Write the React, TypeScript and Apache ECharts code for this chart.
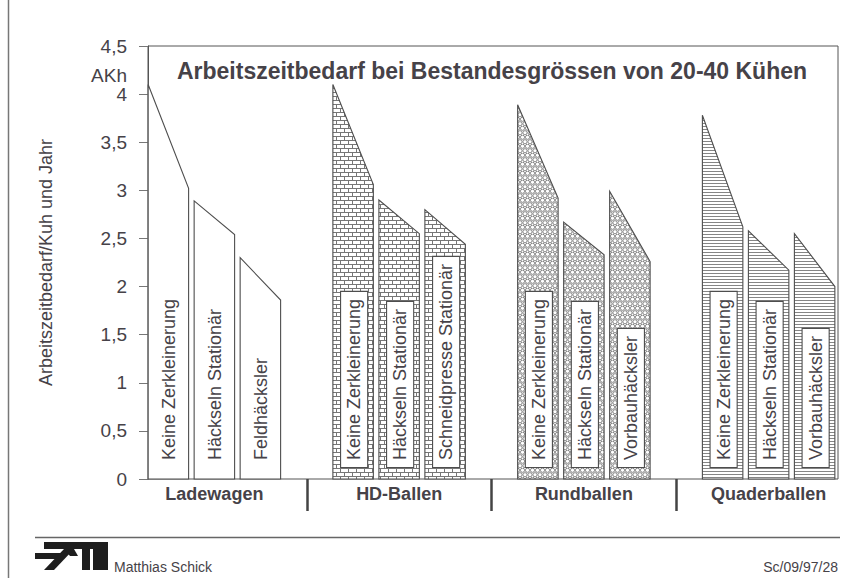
import React, { useEffect, useRef } from 'react';
import * as echarts from 'echarts';

// ---- data ----
const categories = ['Ladewagen', 'HD-Ballen', 'Rundballen', 'Quaderballen'];
const methods = [
  ['Keine Zerkleinerung', 'Häckseln Stationär', 'Feldhäcksler'],
  ['Keine Zerkleinerung', 'Häckseln Stationär', 'Schneidpresse Stationär'],
  ['Keine Zerkleinerung', 'Häckseln Stationär', 'Vorbauhäcksler'],
  ['Keine Zerkleinerung', 'Häckseln Stationär', 'Vorbauhäcksler'],
];
// AKh per cow and year at 20 cows (left edge) and at 40 cows (right edge)
const akh20Cows = [
  [4.1, 2.89, 2.3],
  [4.1, 2.9, 2.8],
  [3.89, 2.67, 2.99],
  [3.78, 2.58, 2.55],
];
const akh40Cows = [
  [3.02, 2.54, 1.86],
  [3.06, 2.55, 2.44],
  [2.92, 2.33, 2.26],
  [2.62, 2.17, 2.0],
];
const yMin = 0;
const yMax = 4.5;
const yStep = 0.5;
const chartTitle = 'Arbeitszeitbedarf bei Bestandesgrössen von 20-40 Kühen';
const yAxisName = 'Arbeitszeitbedarf/Kuh und Jahr';
const yUnit = 'AKh';
const author = 'Matthias Schick';
const docRef = 'Sc/09/97/28';
const groupPatterns = ['plain', 'brick', 'circles', 'lines'];

const FONT = '"Liberation Sans", Arial, Helvetica, sans-serif';
const TEXT = '#464248';
const LINE = '#555';

function makePattern(kind: string): any {
  if (kind === 'plain') return '#ffffff';
  const c = document.createElement('canvas');
  let w = 8, h = 8;
  if (kind === 'circles') { w = 10; h = 9; }
  if (kind === 'lines') { w = 4; h = 3; }
  c.width = w; c.height = h;
  const ctx = c.getContext('2d')!;
  ctx.fillStyle = '#ffffff';
  ctx.fillRect(0, 0, w, h);
  ctx.fillStyle = '#767676';
  ctx.strokeStyle = '#7c7c7c';
  if (kind === 'brick') {
    ctx.fillRect(0, 0, w, 1);
    ctx.fillRect(0, 4, w, 1);
    ctx.fillRect(0, 0, 1, 4);
    ctx.fillRect(4, 4, 1, 4);
  } else if (kind === 'circles') {
    ctx.lineWidth = 0.9;
    const pts = [[2.5, 2.25], [7.5, 2.25], [0, 6.75], [5, 6.75], [10, 6.75]];
    pts.forEach(([x, y]) => {
      ctx.beginPath();
      ctx.arc(x, y, 2.1, 0, Math.PI * 2);
      ctx.stroke();
    });
  } else if (kind === 'lines') {
    ctx.fillStyle = '#858585';
    ctx.fillRect(0, 0, w, 1);
  }
  return { image: c.toDataURL(), repeat: 'repeat', imageWidth: w, imageHeight: h };
}

export default function App() {
  const ref = useRef<HTMLDivElement>(null);

  useEffect(() => {
    if (!ref.current) return;
    const chart = echarts.init(ref.current, null, { renderer: 'svg' });
    const fills = groupPatterns.map(makePattern);

    const data: number[][] = [];
    categories.forEach((_, g) => {
      methods[g].forEach((__, m) => {
        data.push([g, akh20Cows[g][m], akh40Cows[g][m], m]);
      });
    });

    const option: any = {
      animation: false,
      backgroundColor: '#ffffff',
      title: {
        text: chartTitle,
        left: 487,
        top: 54,
        textAlign: 'center',
        textStyle: { fontFamily: FONT, fontSize: 23, fontWeight: 'bold', color: TEXT },
      },
      grid: [
        { left: 122, right: -4, top: 46, bottom: 99, outerBoundsMode: 'none', containLabel: false },
        {
          left: 148, right: 19, top: 46, bottom: 99, show: true,
          borderColor: LINE, borderWidth: 1, backgroundColor: 'transparent',
          outerBoundsMode: 'none', containLabel: false,
        },
      ],
      xAxis: [
        {
          gridIndex: 0,
          type: 'category',
          data: categories,
          axisLine: { show: false },
          axisTick: {
            show: true,
            length: 32,
            interval: (i: number) => i > 0,
            lineStyle: { color: '#444', width: 2.5 },
          },
          axisLabel: { margin: 6, fontFamily: FONT, fontSize: 18, fontWeight: 'bold', color: TEXT },
          splitLine: { show: false },
        },
        { gridIndex: 1, type: 'value', min: 0, max: 1, show: false },
      ],
      yAxis: [
        { gridIndex: 0, type: 'value', min: yMin, max: yMax, show: false },
        {
          gridIndex: 1,
          type: 'value',
          min: yMin,
          max: yMax,
          interval: yStep,
          offset: 2,
          name: yAxisName,
          nameLocation: 'middle',
          nameGap: 91,
          nameTextStyle: { fontFamily: FONT, fontSize: 18, color: TEXT },
          axisLine: { show: true, lineStyle: { color: LINE, width: 1 } },
          axisTick: { show: true, length: 9, lineStyle: { color: '#777', width: 1 } },
          axisLabel: {
            margin: 19,
            fontFamily: FONT,
            fontSize: 19,
            color: TEXT,
            formatter: (v: number) => String(v).replace('.', ','),
          },
          splitLine: { show: false },
        },
      ],
      series: [
        {
          type: 'custom',
          xAxisIndex: 0,
          yAxisIndex: 0,
          clip: false,
          encode: { x: 0, y: [1, 2] },
          data,
          renderItem: (params: any, api: any) => {
            const g = api.value(0);
            const v1 = api.value(1);
            const v2 = api.value(2);
            const m = api.value(3);
            const base = api.coord([g, 0]);
            const bandW = api.size([1, 0])[0];
            const barW = bandW * 0.219;
            const pitch = bandW * 0.249;
            const xc = base[0] + (m - 1) * pitch;
            const xl = xc - barW / 2;
            const xr = xc + barW / 2;
            const y0 = base[1];
            const y1 = api.coord([g, v1])[1];
            const y2 = api.coord([g, v2])[1];
            const label = methods[g][m];
            return {
              type: 'group',
              children: [
                {
                  type: 'polygon',
                  shape: { points: [[xl, y0], [xl, y1], [xr, y2], [xr, y0]] },
                  style: { fill: fills[g], stroke: '#4e4e4e', lineWidth: 1.1 },
                },
                {
                  type: 'text',
                  x: xc + 1,
                  y: y0 - 12,
                  rotation: Math.PI / 2,
                  style: {
                    text: label,
                    font: `18px ${FONT}`,
                    fill: TEXT,
                    align: 'left',
                    verticalAlign: 'middle',
                    backgroundColor: '#ffffff',
                    borderColor: g === 0 ? 'transparent' : '#4e4e4e',
                    borderWidth: g === 0 ? 0 : 1.1,
                    padding: [4, 7],
                  },
                },
              ],
            };
          },
        },
      ],
      graphic: [
        { type: 'line', shape: { x1: 8.5, y1: 0, x2: 8.5, y2: 578 }, style: { stroke: '#777', lineWidth: 1.5 } },
        { type: 'line', shape: { x1: 35, y1: 537.5, x2: 840, y2: 537.5 }, style: { stroke: '#666', lineWidth: 1.5 } },
        {
          type: 'text', x: 127, y: 75,
          style: { text: yUnit, font: `19px ${FONT}`, fill: TEXT, align: 'right', verticalAlign: 'middle', textAlign: 'right', textVerticalAlign: 'middle' },
        },
        {
          type: 'group',
          children: [
            { type: 'rect', shape: { x: 44, y: 542, width: 64, height: 7 }, style: { fill: '#1e1e1e' } },
            { type: 'rect', shape: { x: 35, y: 553, width: 28, height: 6 }, style: { fill: '#1e1e1e' } },
            { type: 'polygon', shape: { points: [[44, 570], [54, 570], [74, 549], [64, 549]] }, style: { fill: '#1e1e1e' } },
            { type: 'polygon', shape: { points: [[64, 549], [74, 549], [78, 556], [70, 556]] }, style: { fill: '#1e1e1e' } },
            { type: 'rect', shape: { x: 82, y: 545, width: 8, height: 25 }, style: { fill: '#1e1e1e' } },
            { type: 'rect', shape: { x: 93, y: 542, width: 15, height: 28 }, style: { fill: '#1e1e1e' } },
          ],
        },
        {
          type: 'text', x: 114, y: 567,
          style: { text: author, font: `14px ${FONT}`, fill: TEXT, align: 'left', verticalAlign: 'middle', textAlign: 'left', textVerticalAlign: 'middle' },
        },
        {
          type: 'text', x: 838, y: 567,
          style: { text: docRef, font: `14px ${FONT}`, fill: TEXT, align: 'right', verticalAlign: 'middle', textAlign: 'right', textVerticalAlign: 'middle' },
        },
      ],
    };

    chart.setOption(option);
    return () => chart.dispose();
  }, []);

  return (
    <div
      ref={ref}
      style={{ position: 'absolute', left: 0, top: 0, width: 857, height: 578, background: '#fff' }}
    />
  );
}
